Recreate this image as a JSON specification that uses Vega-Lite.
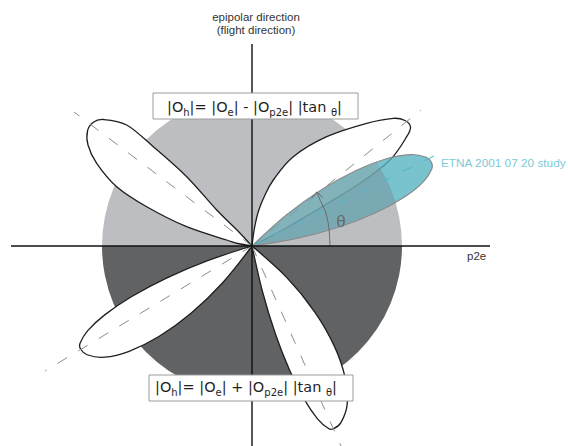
{
  "$schema": "https://vega.github.io/schema/vega-lite/v6.json",
  "width": 568,
  "height": 446,
  "padding": 0,
  "autosize": {"type": "none"},
  "background": "white",
  "config": {"view": {"stroke": null}},
  "datasets": {
    "circle": [
      {"x": 252, "y": 246, "t1": -1.5708, "t2": 1.5708, "part": "upper"},
      {"x": 252, "y": 246, "t1": 1.5708, "t2": 4.7124, "part": "lower"}
    ],
    "lobes": [
      {"lobe": "UL", "i": 0, "x": 252, "y": 246},
      {"lobe": "UL", "i": 1, "x": 238, "y": 243.5},
      {"lobe": "UL", "i": 2, "x": 226.7, "y": 240},
      {"lobe": "UL", "i": 3, "x": 186.7, "y": 226.7},
      {"lobe": "UL", "i": 4, "x": 146.7, "y": 206.7},
      {"lobe": "UL", "i": 5, "x": 116.7, "y": 186.7},
      {"lobe": "UL", "i": 6, "x": 96.7, "y": 163.3},
      {"lobe": "UL", "i": 7, "x": 88, "y": 145},
      {"lobe": "UL", "i": 8, "x": 87.5, "y": 131},
      {"lobe": "UL", "i": 9, "x": 93, "y": 122.5},
      {"lobe": "UL", "i": 10, "x": 103.3, "y": 119.5},
      {"lobe": "UL", "i": 11, "x": 126.7, "y": 125},
      {"lobe": "UL", "i": 12, "x": 153.3, "y": 146.7},
      {"lobe": "UL", "i": 13, "x": 186.7, "y": 176.7},
      {"lobe": "UL", "i": 14, "x": 216.7, "y": 210},
      {"lobe": "UL", "i": 15, "x": 236, "y": 229},
      {"lobe": "UL", "i": 16, "x": 252, "y": 246},
      {"lobe": "UR", "i": 0, "x": 252, "y": 246},
      {"lobe": "UR", "i": 1, "x": 254.5, "y": 228},
      {"lobe": "UR", "i": 2, "x": 258.5, "y": 211},
      {"lobe": "UR", "i": 3, "x": 265, "y": 195},
      {"lobe": "UR", "i": 4, "x": 274, "y": 179},
      {"lobe": "UR", "i": 5, "x": 293.3, "y": 156.7},
      {"lobe": "UR", "i": 6, "x": 326.7, "y": 136.7},
      {"lobe": "UR", "i": 7, "x": 366.7, "y": 123.3},
      {"lobe": "UR", "i": 8, "x": 393.3, "y": 118.3},
      {"lobe": "UR", "i": 9, "x": 405, "y": 120.5},
      {"lobe": "UR", "i": 10, "x": 410.5, "y": 127},
      {"lobe": "UR", "i": 11, "x": 406.7, "y": 136.7},
      {"lobe": "UR", "i": 12, "x": 390, "y": 160},
      {"lobe": "UR", "i": 13, "x": 360, "y": 183.3},
      {"lobe": "UR", "i": 14, "x": 316.7, "y": 210},
      {"lobe": "UR", "i": 15, "x": 276.7, "y": 233.3},
      {"lobe": "UR", "i": 16, "x": 252, "y": 246},
      {"lobe": "LL", "i": 0, "x": 252, "y": 246},
      {"lobe": "LL", "i": 1, "x": 222.87, "y": 282.49},
      {"lobe": "LL", "i": 2, "x": 191.01, "y": 313.26},
      {"lobe": "LL", "i": 3, "x": 158.89, "y": 336.55},
      {"lobe": "LL", "i": 4, "x": 129.15, "y": 351.3},
      {"lobe": "LL", "i": 5, "x": 104.43, "y": 357.2},
      {"lobe": "LL", "i": 6, "x": 87.09, "y": 354.75},
      {"lobe": "LL", "i": 7, "x": 80.56, "y": 349.0},
      {"lobe": "LL", "i": 8, "x": 80.06, "y": 343.27},
      {"lobe": "LL", "i": 9, "x": 87.73, "y": 330.61},
      {"lobe": "LL", "i": 10, "x": 105.36, "y": 314.38},
      {"lobe": "LL", "i": 11, "x": 132.22, "y": 296.22},
      {"lobe": "LL", "i": 12, "x": 166.95, "y": 277.8},
      {"lobe": "LL", "i": 13, "x": 207.66, "y": 260.62},
      {"lobe": "LL", "i": 14, "x": 252, "y": 246},
      {"lobe": "LR", "i": 0, "x": 252, "y": 246},
      {"lobe": "LR", "i": 1, "x": 286.59, "y": 277.36},
      {"lobe": "LR", "i": 2, "x": 314.62, "y": 311.76},
      {"lobe": "LR", "i": 3, "x": 334.44, "y": 346.36},
      {"lobe": "LR", "i": 4, "x": 345.26, "y": 378.21},
      {"lobe": "LR", "i": 5, "x": 347.16, "y": 404.39},
      {"lobe": "LR", "i": 6, "x": 341.07, "y": 422.33},
      {"lobe": "LR", "i": 7, "x": 333.34, "y": 428.7},
      {"lobe": "LR", "i": 8, "x": 328.23, "y": 428.23},
      {"lobe": "LR", "i": 9, "x": 317.47, "y": 418.79},
      {"lobe": "LR", "i": 10, "x": 304.15, "y": 399.16},
      {"lobe": "LR", "i": 11, "x": 289.64, "y": 370.31},
      {"lobe": "LR", "i": 12, "x": 275.34, "y": 333.75},
      {"lobe": "LR", "i": 13, "x": 262.46, "y": 291.5},
      {"lobe": "LR", "i": 14, "x": 252, "y": 246}
    ],
    "etna": [
      {"i": 0, "x": 252, "y": 246},
      {"i": 1, "x": 286.34, "y": 215.08},
      {"i": 2, "x": 321.85, "y": 189.43},
      {"i": 3, "x": 356.02, "y": 170.42},
      {"i": 4, "x": 386.34, "y": 158.76},
      {"i": 5, "x": 410.42, "y": 154.53},
      {"i": 6, "x": 426.24, "y": 157.22},
      {"i": 7, "x": 431.45, "y": 162.33},
      {"i": 8, "x": 431.74, "y": 168.97},
      {"i": 9, "x": 423.35, "y": 181.94},
      {"i": 10, "x": 404.51, "y": 197.03},
      {"i": 11, "x": 376.14, "y": 212.51},
      {"i": 12, "x": 339.8, "y": 226.7},
      {"i": 13, "x": 297.55, "y": 238.21},
      {"i": 14, "x": 252, "y": 246}
    ],
    "etnaInside": [
      {"i": 0, "x": 252, "y": 246},
      {"i": 1, "x": 286.34, "y": 215.08},
      {"i": 2, "x": 321.85, "y": 189.43},
      {"i": 3, "x": 356.02, "y": 170.42},
      {"i": 4, "x": 376.2, "y": 162.0},
      {"i": 5, "x": 376.2, "y": 162.0},
      {"i": 6, "x": 381.9, "y": 171.0},
      {"i": 7, "x": 387.95, "y": 182.61},
      {"i": 8, "x": 392.95, "y": 194.7},
      {"i": 9, "x": 395.56, "y": 202.48},
      {"i": 10, "x": 395.56, "y": 202.48},
      {"i": 11, "x": 376.14, "y": 212.51},
      {"i": 12, "x": 339.8, "y": 226.7},
      {"i": 13, "x": 297.55, "y": 238.21},
      {"i": 14, "x": 252, "y": 246}
    ],
    "dashes": [
      {"x": 252, "y": 246, "x2": 74, "y2": 112},
      {"x": 252, "y": 246, "x2": 421, "y2": 110},
      {"x": 252, "y": 246, "x2": 45, "y2": 371},
      {"x": 252, "y": 246, "x2": 341, "y2": 446}
    ],
    "etnaDash": [
      {"x": 252, "y": 246, "x2": 442, "y2": 152}
    ],
    "thetaArc": [
      {"i": 0, "x": 330, "y": 246},
      {"i": 1, "x": 329.5, "y": 235},
      {"i": 2, "x": 328.3, "y": 223.3},
      {"i": 3, "x": 325.5, "y": 212},
      {"i": 4, "x": 321, "y": 202},
      {"i": 5, "x": 316.7, "y": 192}
    ],
    "arrow": [
      {"i": 0, "x": 311.5, "y": 198.5},
      {"i": 1, "x": 316.7, "y": 192},
      {"i": 2, "x": 323, "y": 197.5}
    ],
    "axes": [
      {"x": 252, "y": 44, "x2": 252, "y2": 446},
      {"x": 11, "y": 246, "x2": 490, "y2": 246}
    ],
    "boxes": [
      {"x": 153, "y": 93, "x2": 358, "y2": 119},
      {"x": 149, "y": 375, "x2": 353, "y2": 401}
    ],
    "formulaMain": [
      {"x": 167, "y": 112, "t": "|O"},
      {"x": 189.6, "y": 112, "t": "|= |O"},
      {"x": 233.7, "y": 112, "t": "| - |O"},
      {"x": 288.2, "y": 112, "t": "| |tan"},
      {"x": 337.1, "y": 112, "t": "|"},
      {"x": 155, "y": 392, "t": "|O"},
      {"x": 177.6, "y": 392, "t": "|= |O"},
      {"x": 221.7, "y": 392, "t": "| + |O"},
      {"x": 283.2, "y": 392, "t": "| |tan"},
      {"x": 332.1, "y": 392, "t": "|"}
    ],
    "formulaSub": [
      {"x": 183.3, "y": 115.5, "t": "h"},
      {"x": 227.5, "y": 115.5, "t": "e"},
      {"x": 269.3, "y": 115.5, "t": "p2e"},
      {"x": 331.0, "y": 115.5, "t": "θ"},
      {"x": 171.3, "y": 395.5, "t": "h"},
      {"x": 215.5, "y": 395.5, "t": "e"},
      {"x": 264.3, "y": 395.5, "t": "p2e"},
      {"x": 326.0, "y": 395.5, "t": "θ"}
    ],
    "title": [
      {"x": 256, "y": 17.5, "t": "epipolar direction"},
      {"x": 256, "y": 30.5, "t": "(flight direction)"}
    ],
    "p2e": [{"x": 467, "y": 257, "t": "p2e"}],
    "etnaLabel": [{"x": 441, "y": 163, "t": "ETNA 2001 07 20 study"}],
    "thetaLabel": [{"x": 341, "y": 222, "t": "θ"}]
  },
  "encoding": {
    "x": {"field": "x", "type": "quantitative", "scale": {"domain": [0, 568], "nice": false, "zero": false}, "axis": null},
    "y": {"field": "y", "type": "quantitative", "scale": {"domain": [0, 446], "nice": false, "zero": false, "reverse": true}, "axis": null}
  },
  "layer": [
    {
      "data": {"name": "circle"},
      "mark": {"type": "arc", "outerRadius": 150, "innerRadius": 0},
      "encoding": {
        "theta": {"field": "t1", "type": "quantitative", "scale": null, "stack": null},
        "theta2": {"field": "t2"},
        "fill": {"field": "part", "type": "nominal", "scale": {"domain": ["upper", "lower"], "range": ["#bdbec1", "#616264"]}, "legend": null}
      }
    },
    {
      "data": {"name": "lobes"},
      "mark": {"type": "line", "interpolate": "cardinal", "fill": "white", "stroke": "#1e1e1e", "strokeWidth": 1.3},
      "encoding": {
        "detail": {"field": "lobe", "type": "nominal"},
        "order": {"field": "i", "type": "quantitative"}
      }
    },
    {
      "data": {"name": "dashes"},
      "mark": {"type": "rule", "strokeDash": [11, 13], "strokeWidth": 1, "stroke": "#8c8c8c"},
      "encoding": {"x2": {"field": "x2"}, "y2": {"field": "y2"}}
    },
    {
      "data": {"name": "etna"},
      "mark": {"type": "line", "interpolate": "cardinal", "fill": "#56b4c0", "fillOpacity": 0.8, "stroke": "#8a8a8a", "strokeWidth": 1.2},
      "encoding": {"order": {"field": "i", "type": "quantitative"}}
    },
    {
      "data": {"name": "etnaInside"},
      "mark": {"type": "line", "interpolate": "cardinal", "fill": "#96969b", "fillOpacity": 0.35, "strokeOpacity": 0},
      "encoding": {"order": {"field": "i", "type": "quantitative"}}
    },
    {
      "data": {"name": "etnaDash"},
      "mark": {"type": "rule", "strokeDash": [11, 13], "strokeWidth": 1, "stroke": "#4fb8cc"},
      "encoding": {"x2": {"field": "x2"}, "y2": {"field": "y2"}}
    },
    {
      "data": {"name": "thetaArc"},
      "mark": {"type": "line", "interpolate": "cardinal", "stroke": "#6a6a6a", "strokeWidth": 1},
      "encoding": {"order": {"field": "i", "type": "quantitative"}}
    },
    {
      "data": {"name": "arrow"},
      "mark": {"type": "line", "stroke": "#6a6a6a", "strokeWidth": 1},
      "encoding": {"order": {"field": "i", "type": "quantitative"}}
    },
    {
      "data": {"name": "axes"},
      "mark": {"type": "rule", "stroke": "#111111", "strokeWidth": 1.4},
      "encoding": {"x2": {"field": "x2"}, "y2": {"field": "y2"}}
    },
    {
      "data": {"name": "boxes"},
      "mark": {"type": "rect", "fill": "white", "stroke": "#9c9c9c", "strokeWidth": 1},
      "encoding": {"x2": {"field": "x2"}, "y2": {"field": "y2"}}
    },
    {
      "data": {"name": "formulaMain"},
      "mark": {"type": "text", "align": "left", "baseline": "alphabetic", "font": "DejaVu Sans", "fontSize": 14.5, "fill": "#1f1f1f"},
      "encoding": {"text": {"field": "t"}}
    },
    {
      "data": {"name": "formulaSub"},
      "mark": {"type": "text", "align": "left", "baseline": "alphabetic", "font": "DejaVu Sans", "fontSize": 10, "fill": "#1f1f1f"},
      "encoding": {"text": {"field": "t"}}
    },
    {
      "data": {"name": "title"},
      "mark": {"type": "text", "align": "center", "baseline": "middle", "font": "Liberation Sans", "fontSize": 11.5, "fill": "#333333"},
      "encoding": {"text": {"field": "t"}}
    },
    {
      "data": {"name": "p2e"},
      "mark": {"type": "text", "align": "left", "baseline": "middle", "font": "Liberation Sans", "fontSize": 11.5, "fill": "#333333"},
      "encoding": {"text": {"field": "t"}}
    },
    {
      "data": {"name": "etnaLabel"},
      "mark": {"type": "text", "align": "left", "baseline": "middle", "font": "Liberation Sans", "fontSize": 11.8, "fill": "#7ccad9"},
      "encoding": {"text": {"field": "t"}}
    },
    {
      "data": {"name": "thetaLabel"},
      "mark": {"type": "text", "align": "center", "baseline": "middle", "font": "Liberation Sans", "fontSize": 17, "fill": "#6a6a6a"},
      "encoding": {"text": {"field": "t"}}
    }
  ]
}
